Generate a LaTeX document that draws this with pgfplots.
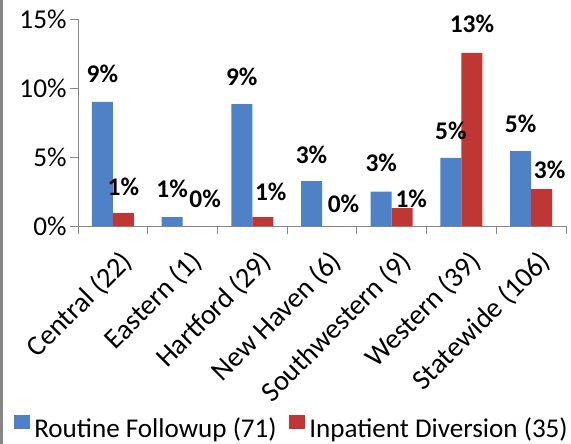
\documentclass[border=0pt]{standalone}
\usepackage{pgfplots}
\pgfplotsset{compat=1.18}
\usepackage{pgfplotstable}
\usepackage{fontspec}
\setmainfont{Carlito}
\definecolor{axgray}{RGB}{134,134,134}
\definecolor{barblue}{RGB}{79,129,199}
\definecolor{barred}{RGB}{190,55,52}
\pgfplotstableread{
x y lab dx gap
0 8.99 9 0 19
1 0.65 1 0 20
2 8.84 9 0 19
3 3.26 3 0 18
4 2.5 3 0 20
5 4.93 5 0 18
6 5.43 5 0 19
}\routine
\pgfplotstableread{
x y lab dx gap
0 0.94 1 0 18
1 0 0 12 19
2 0.65 1 8 17
3 0 0 11 14
4 1.3 1 9 1
5 12.54 13 0 20
6 2.68 3 8 11
}\inpatient
\begin{document}
\begin{tikzpicture}
\begin{axis}[
  at={(0,0)}, anchor=south west,
  width=488bp, height=207bp, scale only axis,
  xmin=-0.5, xmax=6.5, ymin=0, ymax=15,
  axis lines*=left,
  axis line style={axgray, line width=0.8bp},
  ytick={0,5,10,15},
  yticklabel={\pgfmathprintnumber[assume math mode=true]{\tick}\%},
  xtick={0,...,6},
  xticklabels={Central (22),Eastern (1),Hartford (29),New Haven (6),Southwestern (9),Western (39),Statewide (106)},
  minor xtick={-0.5,0.5,...,6.5},
  tick align=outside,
  major tick length=8bp, minor tick length=8bp,
  tick style={axgray, line width=0.8bp},
  major x tick style={draw=none},
  tick label style={font=\fontsize{27.3}{32}\selectfont, text=black},
  xticklabel style={font=\fontsize{28.5}{33}\selectfont, xshift=6bp, yshift=-14bp, rotate=45, anchor=north east, inner sep=0pt},
  ybar=0pt, bar width=21bp,
  point meta=explicit symbolic,
  nodes near coords={\pgfplotspointmeta\%},
  nodes near coords style={font=\fontsize{25.5}{30}\selectfont\bfseries, anchor=base, inner sep=0pt, xshift=\dx bp, yshift=\gap bp},
  visualization depends on={\thisrow{dx} \as \dx},
  visualization depends on={\thisrow{gap} \as \gap},
  legend style={at={(0.436,-0.971)}, anchor=center, draw=none, fill=none, inner sep=0pt,
    nodes={inner sep=0pt},
    font=\fontsize{27.2}{32}\selectfont, legend columns=2,
    /tikz/every odd column/.append style={column sep=4.5bp},
    /tikz/every even column/.append style={column sep=12bp}},
  clip=false,
]
\addplot[draw=none, fill=barblue,
  legend image code/.code={\path[fill=barblue] (0bp,0bp) rectangle (16bp,14bp);}]
  table[x=x, y=y, meta=lab] {\routine};
\addlegendentry{Routine Followup (71)}
\addplot[draw=none, fill=barred,
  legend image code/.code={\path[fill=barred] (0bp,0bp) rectangle (16bp,14bp);}]
  table[x=x, y=y, meta=lab] {\inpatient};
\addlegendentry{Inpatient Diversion (35)}
\end{axis}
\fill[axgray] (-78bp,-218bp) rectangle (-75bp,226bp);
\pgfresetboundingbox
\useasboundingbox (-78bp,-218bp) rectangle (493bp,226bp);
\end{tikzpicture}
\end{document}
